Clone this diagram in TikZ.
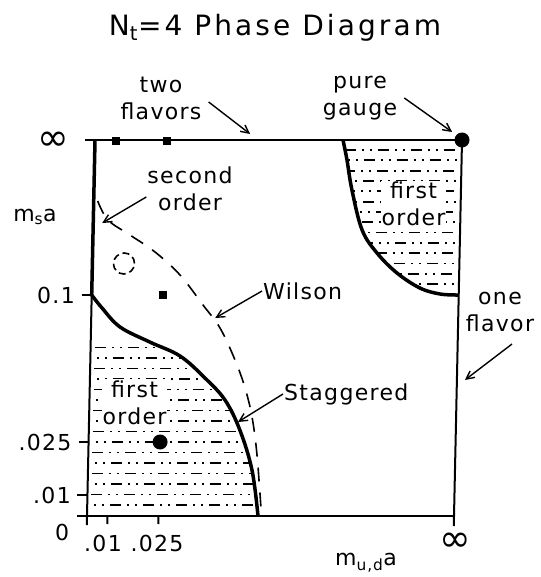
\documentclass[tikz,border=0pt]{standalone}
\usepackage{fontspec}
\setmainfont{DejaVu Sans}[LetterSpace=6]
\usetikzlibrary{positioning, arrows.meta}

\newcommand{\lblfont}{\fontsize{22}{27}\selectfont}
\newcommand{\ttlfont}{\fontsize{28}{30}\selectfont\addfontfeature{LetterSpace=11}}
\newcommand{\inffont}{\fontsize{38}{38}\selectfont}

\begin{document}
\begin{tikzpicture}[
    x=1pt, y=-1pt,
    lbl/.style={font=\lblfont, align=center, inner sep=1pt},
    ticklbl/.style={font=\lblfont, inner sep=0pt},
    infty/.style={font=\inffont, inner sep=0pt},
    pointer/.style={-{Straight Barb[length=8pt, width=8pt]}, line width=1.4pt},
    axisline/.style={line width=2pt},
    bound/.style={line width=3.5pt},
    wilsonline/.style={line width=1.6pt, dash pattern=on 14pt off 11pt},
    hatchrow/.style={line width=1.8pt, dash pattern=on 11pt off 6pt on 2pt off 6pt on 2pt off 6pt},
    sqmark/.style={rectangle, fill=black, minimum size=8.5pt, inner sep=0pt},
    dotmark/.style={circle, fill=black, minimum size=15pt, inner sep=0pt}
]
\useasboundingbox (0,0) rectangle (540,577);

% Title
\node[font=\ttlfont] (title) at (275,28) {N\textsubscript{t}=4 Phase Diagram};

% plot frame (the scan is slightly slanted)
\begin{scope}[shift={(87pt,-516pt)}, xslant=0.0213, x=1pt, y=1pt]
  % hatching, lower first order region
  \begin{scope}
    \clip (0,0) -- plot[smooth, tension=0.6] coordinates {(0,221) (10.6,208) (29,189) (59,174) (89.6,160) (115,138) (135.5,116) (151,86) (164,46) (171,0)} -- cycle;
    \foreach \v [count=\i] in {11,21.5,...,170} {
      \pgfmathsetmacro\ph{mod(\i,2)*14}
      \draw[hatchrow, dash phase=\ph pt] (4,\v) -- (200,\v);
    }
  \end{scope}
  % hatching, upper first order region
  \begin{scope}
    \clip (248,376) -- plot[smooth, tension=0.6] coordinates {(248,376) (252.4,356) (258,326) (269,286) (284.4,263) (304.8,243) (328,228) (348.3,222) (367,221)} -- (367,376) -- cycle;
    \foreach \v [count=\i] in {232,242.3,...,370} {
      \pgfmathsetmacro\ph{mod(\i,2)*14}
      \draw[hatchrow, dash phase=\ph pt] (250,\v) -- (364,\v);
    }
  \end{scope}

  % frame and ticks
  \draw[axisline] (-10,376) -- (367,376);
  \draw[axisline] (-10,0) -- (367,0);
  \draw[axisline] (367,376) -- (367,-10);
  \draw[line width=3.5pt] (0,376) -- (0,221);
  \draw[axisline] (0,221) -- (0,-9);
  \foreach \v in {221,74,21}
    \draw[axisline] (-10,\v) -- (0,\v);
  \foreach \u in {20.5,71.5}
    \draw[axisline] (\u,0) -- (\u,-8);

  % phase boundaries
  \draw[bound] plot[smooth, tension=0.6] coordinates {(0,221) (10.6,208) (29,189) (59,174) (89.6,160) (115,138) (135.5,116) (151,86) (164,46) (171,0)};
  \draw[bound] plot[smooth, tension=0.6] coordinates {(248,376) (252.4,356) (258,326) (269,286) (284.4,263) (304.8,243) (328,228) (348.3,222) (367,221)};
  \draw[wilsonline] plot[smooth, tension=0.6] coordinates {(4,315) (14.7,296) (37,281) (62.4,264) (87.9,241) (111.5,211) (129,188) (144.7,156) (155.3,128) (162.9,99) (168.7,61) (174.5,0)};

  % simulation points
  \node[sqmark] (sqa) at (21,375) {};
  \node[sqmark] (sqb) at (72,375) {};
  \node[sqmark] (sqc) at (71.5,221) {};
  \node[dotmark] (dotlo) at (71.5,74) {};
  \node[dotmark] (puredot) at (367,376) {};
  \draw[line width=1.6pt, dash pattern=on 7pt off 4pt] (31.6,252.5) circle (10.5pt);

  % arrow targets
  \coordinate (secpt) at (9,293);
  \coordinate (wilpt) at (124,198);
  \coordinate (stgpt) at (149,94);
  \coordinate (onept) at (375,136);
  \coordinate (twopt) at (155,382);
  \coordinate (purept) at (357,384);
\end{scope}

% region labels
\node[lbl, fill=white] (firstlo) at (134.5,402.5) {first\\order};
\node[lbl, fill=white] (firsthi) at (413.5,204) {first\\order};

% labels with arrows
\node[lbl] (twofl) at (161,98) {two\\flavors};
\node[lbl] (puregauge) at (360,98) {pure\\gauge};
\node[lbl] (secorder) at (190,189) {second\\order};
\node[lbl, anchor=west] (wilson) at (262,291) {Wilson};
\node[lbl, anchor=west] (staggered) at (283,394) {Staggered};
\node[lbl] (oneflavor) at (500,312) {one\\flavor};

\draw[pointer] ([xshift=6pt,yshift=-4pt]twofl.east) -- (twopt);
\draw[pointer] ([xshift=6pt]puregauge.east) -- (purept);
\draw[pointer] ([yshift=-8pt]secorder.west) -- (secpt);
\draw[pointer] (wilson.west) -- (wilpt);
\draw[pointer] (staggered.west) -- (stgpt);
\draw[pointer] ([xshift=12pt,yshift=-11pt]oneflavor.south) -- (onept);

% axes labels
\node[lbl] (msa) at (35,217) {m\textsubscript{s}a};
\node[lbl] (muda) at (366,563) {m\textsubscript{u,d}a};
\node[ticklbl] (tick01) at (56,295) {0.1};
\node[ticklbl] (tick025) at (45,442) {.025};
\node[ticklbl] (tick001) at (52,495) {.01};
\node[ticklbl] (tickzero) at (62,532) {0};
\node[ticklbl] (xtick001) at (103,543) {.01};
\node[ticklbl] (xtick025) at (157,543) {.025};
\node[infty] (inftop) at (53,141) {∞};
\node[infty] (infright) at (455,542) {∞};

\end{tikzpicture}
\end{document}
